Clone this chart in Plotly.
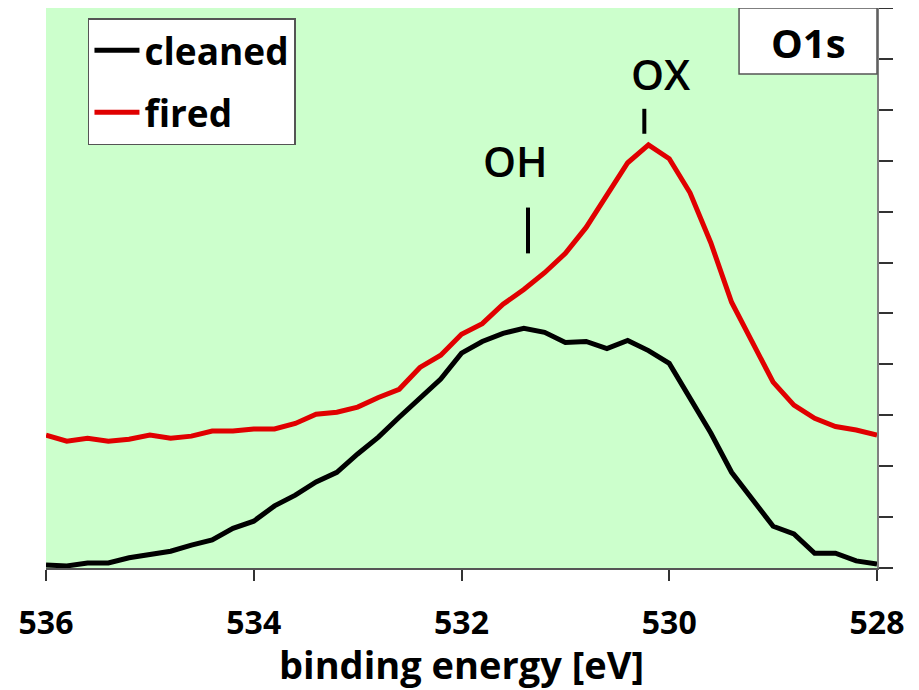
import plotly.graph_objects as go

# binding energy grid (eV)
energy = [536.0, 535.8, 535.6, 535.4, 535.2, 535.0, 534.8, 534.6, 534.4, 534.2,
          534.0, 533.8, 533.6, 533.4, 533.2, 533.0, 532.8, 532.6, 532.4, 532.2,
          532.0, 531.8, 531.6, 531.4, 531.2, 531.0, 530.8, 530.6, 530.4, 530.2,
          530.0, 529.8, 529.6, 529.4, 529.2, 529.0, 528.8, 528.6, 528.4, 528.2,
          528.0]

# intensities (arbitrary units)
cleaned = [6, 4, 10, 10, 20, 27, 33, 45, 55, 78,
           92, 122, 143, 169, 188, 224, 257, 296, 335, 371,
           422, 445, 461, 471, 463, 443, 445, 431, 447, 427,
           402, 333, 265, 188, 133, 82, 67, 29, 29, 14,
           8]
fired = [261, 249, 255, 249, 253, 261, 255, 259, 269, 269,
         273, 273, 284, 302, 306, 316, 335, 351, 394, 418,
         459, 480, 518, 547, 580, 618, 669, 731, 796, 831,
         804, 737, 639, 522, 441, 365, 320, 294, 278, 271,
         261]

x_ticks = [536, 534, 532, 530, 528]
peak_names = ["OH", "OX"]
peak_mark_x = [531.36, 530.24]
peak_mark_y0 = [618, 853]
peak_mark_y1 = [708, 902]
peak_text_x = [531.48, 530.08]
peak_text_y = [800, 972]

FONT = "Open Sans"

fig = go.Figure()
fig.add_trace(go.Scatter(x=energy, y=cleaned, mode="lines", name="cleaned",
                         legendgroup="a",
                         line=dict(color="black", width=5)))
fig.add_trace(go.Scatter(x=energy, y=fired, mode="lines", name="fired",
                         legendgroup="b",
                         line=dict(color="#e00000", width=5)))

shapes = []
for xm, y0, y1 in zip(peak_mark_x, peak_mark_y0, peak_mark_y1):
    shapes.append(dict(type="line", xref="x", yref="y", x0=xm, x1=xm, y0=y0, y1=y1,
                       line=dict(color="black", width=4)))
# O1s box
shapes.append(dict(type="rect", xref="paper", yref="paper", x0=0.834, x1=1.0,
                   y0=0.882, y1=1.0, fillcolor="white",
                   line=dict(color="#555555", width=1.5), layer="above"))

annotations = []
for name, tx, ty in zip(peak_names, peak_text_x, peak_text_y):
    annotations.append(dict(x=tx, y=ty, xref="x", yref="y", text=name, showarrow=False,
                            font=dict(family=FONT, size=42, color="black", weight=600),
                            xanchor="center", yanchor="middle"))
annotations.append(dict(x=0.917, y=0.938, xref="paper", yref="paper", text="O1s",
                        showarrow=False,
                        font=dict(family=FONT, size=40, color="black", weight=700),
                        xanchor="center", yanchor="middle"))

fig.update_layout(
    width=911, height=682,
    margin=dict(l=38, r=42, t=0, b=122, pad=0, autoexpand=False),
    paper_bgcolor="white",
    plot_bgcolor="#ccffcc",
    shapes=shapes,
    annotations=annotations,
    legend=dict(x=0.0505, y=0.982, xanchor="left", yanchor="top",
                bgcolor="white", bordercolor="#555555", borderwidth=1.5,
                font=dict(family=FONT, size=37, color="black", weight=700),
                tracegroupgap=11, itemwidth=45),
    xaxis=dict(range=[536, 528], tickvals=x_ticks, ticktext=[str(t) for t in x_ticks],
               automargin=False,
               showgrid=False, zeroline=False, showline=True, linecolor="#555555",
               linewidth=1.5, ticks="outside", ticklen=11, tickcolor="#333333",
               tickwidth=1.5, ticklabelstandoff=15,
               tickfont=dict(family=FONT, size=32, color="black", weight=700),
               title=dict(text="binding energy [eV]", standoff=6,
                          font=dict(family=FONT, size=38, color="black", weight=700))),
    yaxis=dict(range=[0, 1100], dtick=100, side="right", showticklabels=False,
               automargin=False,
               showgrid=False, zeroline=False, showline=True, linecolor="#808080",
               linewidth=1.5, ticks="outside", ticklen=14, tickcolor="#333333",
               tickwidth=1.5),
)

fig.write_html("out.html")
